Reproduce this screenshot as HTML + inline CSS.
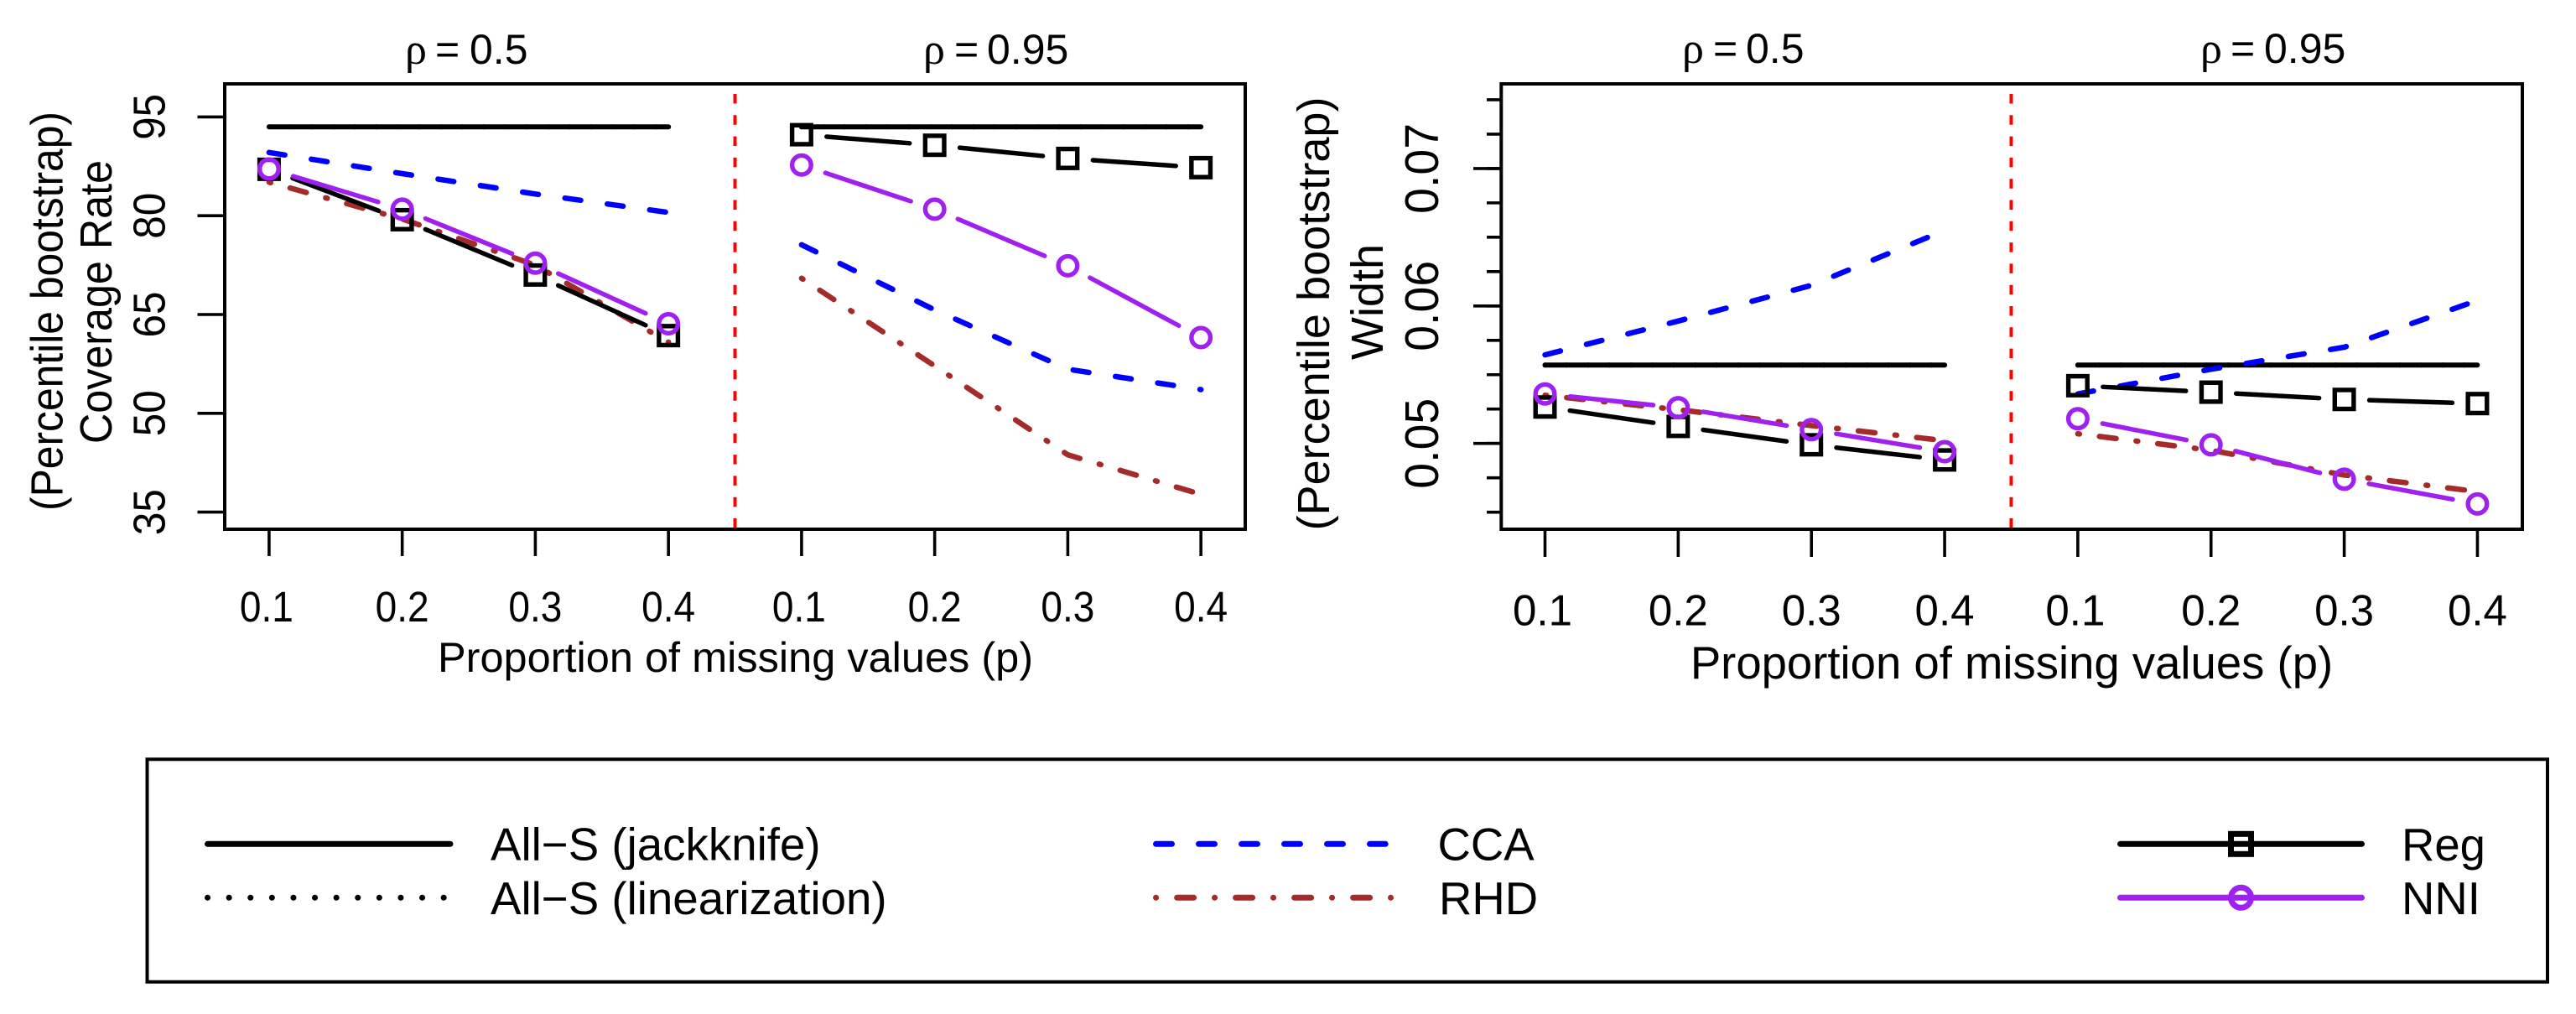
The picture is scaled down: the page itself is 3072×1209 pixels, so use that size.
<!DOCTYPE html>
<html lang="en">
<head>
<meta charset="utf-8">
<title>Percentile bootstrap coverage rate and width</title>
<style>
html,body{margin:0;padding:0;background:#fff;width:3072px;height:1209px;overflow:hidden}
svg{display:block}
text{font-family:"Liberation Sans",sans-serif;fill:#000}
.sym{font-family:"Liberation Serif",serif}
</style>
</head>
<body>
<svg id="chart" xmlns="http://www.w3.org/2000/svg" width="3072" height="1209" viewBox="0 0 3072 1209">
  <rect x="0" y="0" width="3072" height="1209" fill="#fff"/>

  <g>
    <text y="76" font-size="50"><tspan class="sym" x="483" font-size="52">ρ</tspan><tspan x="519">=</tspan><tspan x="560">0.5</tspan></text>
    <text y="76" font-size="50"><tspan class="sym" x="1101" font-size="52">ρ</tspan><tspan x="1138">=</tspan><tspan x="1177">0.95</tspan></text>
  </g>
  <g>
    <text y="75" font-size="50"><tspan class="sym" x="2006" font-size="52">ρ</tspan><tspan x="2043">=</tspan><tspan x="2082">0.5</tspan></text>
    <text y="75" font-size="50"><tspan class="sym" x="2624" font-size="52">ρ</tspan><tspan x="2660">=</tspan><tspan x="2700">0.95</tspan></text>
  </g>

  <text transform="translate(74.6,371) rotate(-90)" text-anchor="middle" font-size="54" textLength="476" lengthAdjust="spacingAndGlyphs">(Percentile bootstrap)</text>
  <text transform="translate(133,360) rotate(-90)" text-anchor="middle" font-size="54" textLength="338" lengthAdjust="spacingAndGlyphs">Coverage Rate</text>
  <text x="877" y="801" text-anchor="middle" font-size="50.5">Proportion of missing values (p)</text>

  <text transform="translate(1585,374) rotate(-90)" text-anchor="middle" font-size="54" textLength="517" lengthAdjust="spacingAndGlyphs">(Percentile bootstrap)</text>
  <text transform="translate(1649,360) rotate(-90)" text-anchor="middle" font-size="54" textLength="138" lengthAdjust="spacingAndGlyphs">Width</text>
  <text x="2399" y="809" text-anchor="middle" font-size="54.5">Proportion of missing values (p)</text>

  <g id="panels"></g>

  <g>
    <rect x="175.5" y="905.3" width="2862.5" height="265.4" fill="none" stroke="#000" stroke-width="4"/>

    <g>
      <line x1="247.5" y1="1006.3" x2="537" y2="1006.3" stroke="#000" stroke-width="7" stroke-linecap="round"/>
      <text x="585" y="1025.7" font-size="54.7">All−S (jackknife)</text>
    </g>
    <g>
      <line x1="247.5" y1="1070.3" x2="532" y2="1070.3" stroke="#000" stroke-width="7" stroke-linecap="round" stroke-dasharray="0.1 25.5"/>
      <text x="585" y="1090" font-size="54.7">All−S (linearization)</text>
    </g>
    <g>
      <line x1="1378.5" y1="1006.3" x2="1652.2" y2="1006.3" stroke="#0000ff" stroke-width="7" stroke-linecap="round" stroke-dasharray="19 32"/>
      <text x="1714.5" y="1025.7" font-size="54.5">CCA</text>
    </g>
    <g>
      <line x1="1378.5" y1="1070.3" x2="1658.5" y2="1070.3" stroke="#a52a2a" stroke-width="7" stroke-linecap="round" stroke-dasharray="0.1 25 20 24.9"/>
      <text x="1716" y="1090" font-size="54.5">RHD</text>
    </g>
    <g>
      <line x1="2528.5" y1="1006.3" x2="2816.5" y2="1006.3" stroke="#000" stroke-width="7" stroke-linecap="round"/>
      <rect x="2660.5" y="994.3" width="24" height="24" fill="none" stroke="#000" stroke-width="7"/>
      <text x="2864" y="1026" font-size="54.5">Reg</text>
    </g>
    <g>
      <line x1="2528.5" y1="1070.3" x2="2816.5" y2="1070.3" stroke="#a020f0" stroke-width="7" stroke-linecap="round"/>
      <circle cx="2672.5" cy="1070.3" r="12" fill="none" stroke="#a020f0" stroke-width="7"/>
      <text x="2864" y="1090" font-size="54.5">NNI</text>
    </g>
  </g>
</svg>

<script>
// Shared x categories: each method holds four values for rho = 0.5 then four for rho = 0.95.
const missingProportions = [0.1, 0.2, 0.3, 0.4];
const xTickLabels = ['0.1', '0.2', '0.3', '0.4'];

// Coverage rate panel
const coverageTicks = [35, 50, 65, 80, 95];
const coverageTickLabels = ['35', '50', '65', '80', '95'];
const coverageAllSJackknife = [93.5, 93.5, 93.5, 93.5, 93.5, 93.5, 93.5, 93.5];
const coverageAllSLinearization = [93.5, 93.5, 93.5, 93.5, 93.5, 93.5, 93.5, 93.5];
const coverageCCA = [89.6, 86.4, 83.3, 80.5, 75.6, 65.7, 56.7, 53.6];
const coverageRHD = [85.1, 79.5, 72.5, 60.8, 70.5, 57.2, 43.7, 37.7];
const coverageReg = [87.05, 79.4, 71.0, 61.8, 92.3, 90.7, 88.7, 87.3];
const coverageNNI = [87.1, 81.0, 72.8, 63.6, 87.7, 81.0, 72.4, 61.5];

// Width panel
const widthMinorTicks = [0.045, 0.0475, 0.05, 0.0525, 0.055, 0.0575, 0.06, 0.0625, 0.065, 0.0675, 0.07, 0.0725, 0.075];
const widthMajorTicks = [0.05, 0.06, 0.07];
const widthTickLabels = ['0.05', '0.06', '0.07'];
const widthAllSJackknife = [0.0557, 0.0557, 0.0557, 0.0557, 0.0557, 0.0557, 0.0557, 0.0557];
const widthAllSLinearization = [0.0557, 0.0557, 0.0557, 0.0557, 0.0557, 0.0557, 0.0557, 0.0557];
const widthCCA = [0.05644, 0.0589, 0.0615, 0.0655, 0.0536, 0.0554, 0.057, 0.0604];
const widthRHD = [0.0535, 0.05245, 0.0513, 0.0502, 0.0507, 0.0495, 0.0477, 0.0465];
const widthReg = [0.05265, 0.05124, 0.0499, 0.0488, 0.0542, 0.05373, 0.0532, 0.0529];
const widthNNI = [0.0536, 0.0526, 0.051, 0.0494, 0.0518, 0.0499, 0.0474, 0.0456];

const SVGNS = 'http://www.w3.org/2000/svg';
const panelsRoot = document.getElementById('panels');

function make(tag, attrs, parent) {
  const el = document.createElementNS(SVGNS, tag);
  for (const k in attrs) el.setAttribute(k, attrs[k]);
  parent.appendChild(el);
  return el;
}

function coverageY(v) { return 610.6 - (v - 35) * 7.853; }
function widthY(v) { return 528.7 - (v - 0.05) * 16390; }
function coverageX(rhoIndex, p) { return 320.9 + (p - 0.1 + 0.4 * rhoIndex) * 1587.5; }
function widthX(rhoIndex, p) { return 1842.5 + (p - 0.1 + 0.4 * rhoIndex) * 1588.5; }

function points(values, rhoIndex, xFn, yFn) {
  return missingProportions.map(function (p, i) {
    return [xFn(rhoIndex, p), yFn(values[i + rhoIndex * 4])];
  });
}

function polyline(pts, stroke, width, dash, parent, name) {
  const el = make('polyline', {
    points: pts.map(function (q) { return q[0].toFixed(1) + ',' + q[1].toFixed(1); }).join(' '),
    fill: 'none', stroke: stroke, 'stroke-width': width, 'stroke-linecap': 'round', 'stroke-linejoin': 'round'
  }, parent);
  if (dash) el.setAttribute('stroke-dasharray', dash);
  
  
}

function gappedLine(pts, stroke, parent, name) {
  const gap = 30;
  for (let i = 0; i < pts.length - 1; i++) {
    const dx = pts[i + 1][0] - pts[i][0];
    const dy = pts[i + 1][1] - pts[i][1];
    const len = Math.sqrt(dx * dx + dy * dy);
    const seg = make('line', {
      x1: pts[i][0] + dx / len * gap, y1: pts[i][1] + dy / len * gap,
      x2: pts[i + 1][0] - dx / len * gap, y2: pts[i + 1][1] - dy / len * gap,
      stroke: stroke, 'stroke-width': 5.5, 'stroke-linecap': 'round'
    }, parent);
    
    
  }
}

function squares(pts, parent, name) {
  pts.forEach(function (q) {
    const m = make('rect', { x: q[0] - 11.3, y: q[1] - 11.3, width: 22.6, height: 22.6, fill: 'none', stroke: '#000', 'stroke-width': 5.4 }, parent);
    
    
  });
}

function circles(pts, parent, name) {
  pts.forEach(function (q) {
    const m = make('circle', { cx: q[0], cy: q[1], r: 11.3, fill: 'none', stroke: '#a020f0', 'stroke-width': 5.4 }, parent);
    
    
  });
}

function drawSeries(parent, prefix, rhoIndex, rhoName, xFn, yFn, allS, allL, cca, rhd, reg, nni) {
  const g = make('g', {}, parent);
  
  
  polyline(points(allS, rhoIndex, xFn, yFn), '#000', 6, null, g, prefix + '-all-s-jackknife-' + rhoName);
  polyline(points(allL, rhoIndex, xFn, yFn), '#000', 6, '0.1 25.5', g, prefix + '-all-s-linearization-' + rhoName);
  polyline(points(cca, rhoIndex, xFn, yFn), '#0000ff', 6.5, '19 32', g, prefix + '-cca-' + rhoName);
  polyline(points(rhd, rhoIndex, xFn, yFn), '#a52a2a', 6.5, '2 24 20 24', g, prefix + '-rhd-' + rhoName);
  const regPts = points(reg, rhoIndex, xFn, yFn);
  gappedLine(regPts, '#000', g, prefix + '-reg-' + rhoName);
  squares(regPts, g, prefix + '-reg-' + rhoName);
  const nniPts = points(nni, rhoIndex, xFn, yFn);
  gappedLine(nniPts, '#a020f0', g, prefix + '-nni-' + rhoName);
  circles(nniPts, g, prefix + '-nni-' + rhoName);
}

function drawXAxis(parent, prefix, xFn, tickBottom, labelY, fontSize, labelLength) {
  [0, 1].forEach(function (rhoIndex) {
    missingProportions.forEach(function (p, i) {
      const x = xFn(rhoIndex, p);
      const t = make('line', { x1: x, y1: 631, x2: x, y2: tickBottom, stroke: '#000', 'stroke-width': 3.6 }, parent);
      
      
      const nudge = xTickLabels[i].endsWith('1') ? -3 : 0;
      const lab = make('text', { x: x + nudge, y: labelY, 'text-anchor': 'middle', 'font-size': fontSize, textLength: labelLength, lengthAdjust: 'spacingAndGlyphs' }, parent);
      lab.textContent = xTickLabels[i];
      
      
    });
  });
}

function drawFrame(parent, prefix, left, right, redX) {
  const box = make('rect', { x: left, y: 100, width: right - left, height: 531, fill: 'none', stroke: '#000', 'stroke-width': 4 }, parent);
  
  
  const sep = make('line', { x1: redX, y1: 112, x2: redX, y2: 631, stroke: '#ff0000', 'stroke-width': 4, 'stroke-dasharray': '11.5 13.8' }, parent);
  
  
}

// Coverage panel
const coveragePanel = make('g', {}, panelsRoot);


drawFrame(coveragePanel, 'coverage', 268, 1485, coverageX(0, 0.45));
coverageTicks.forEach(function (v, i) {
  const y = coverageY(v);
  const t = make('line', { x1: 235.5, y1: y, x2: 268, y2: y, stroke: '#000', 'stroke-width': 3.6 }, coveragePanel);
  
  
  const lab = make('text', { transform: 'translate(196.3,' + y + ') rotate(-90)', 'text-anchor': 'middle', 'font-size': 54, textLength: 55, lengthAdjust: 'spacingAndGlyphs' }, coveragePanel);
  lab.textContent = coverageTickLabels[i];
  
  
});
drawXAxis(coveragePanel, 'coverage', coverageX, 663, 741, 51, 64);
[0, 1].forEach(function (rhoIndex) {
  drawSeries(coveragePanel, 'coverage', rhoIndex, rhoIndex ? 'rho-0.95' : 'rho-0.5', coverageX, coverageY,
    coverageAllSJackknife, coverageAllSLinearization, coverageCCA, coverageRHD, coverageReg, coverageNNI);
});

// Width panel
const widthPanel = make('g', {}, panelsRoot);


drawFrame(widthPanel, 'width', 1790.3, 3008, widthX(0, 0.45));
widthMinorTicks.forEach(function (v) {
  const y = widthY(v);
  const t = make('line', { x1: 1773, y1: y, x2: 1790.3, y2: y, stroke: '#000', 'stroke-width': 3.6 }, widthPanel);
  
  
});
widthMajorTicks.forEach(function (v, i) {
  const y = widthY(v);
  const t = make('line', { x1: 1757, y1: y, x2: 1790.3, y2: y, stroke: '#000', 'stroke-width': 3.6 }, widthPanel);
  
  
  const lab = make('text', { transform: 'translate(1715,' + y + ') rotate(-90)', 'text-anchor': 'middle', 'font-size': 57, textLength: 108, lengthAdjust: 'spacingAndGlyphs' }, widthPanel);
  lab.textContent = widthTickLabels[i];
  
  
});
drawXAxis(widthPanel, 'width', widthX, 664, 745.6, 52, 71);
[0, 1].forEach(function (rhoIndex) {
  drawSeries(widthPanel, 'width', rhoIndex, rhoIndex ? 'rho-0.95' : 'rho-0.5', widthX, widthY,
    widthAllSJackknife, widthAllSLinearization, widthCCA, widthRHD, widthReg, widthNNI);
});
</script>
</body>
</html>
